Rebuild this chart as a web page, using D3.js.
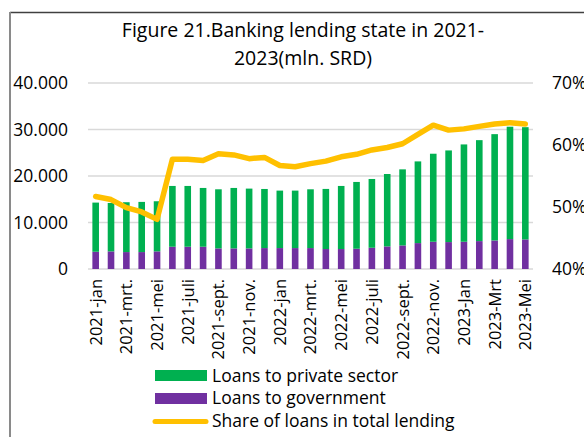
<!DOCTYPE html>
<html>
<head>
<meta charset="utf-8">
<script src="https://cdn.jsdelivr.net/npm/d3@7"></script>
<style>
  html, body { margin: 0; padding: 0; background: #fff; }
  svg { display: block; }
  text { font-family: "Open Sans", "Noto Sans", sans-serif; fill: #000; }
</style>
</head>
<body>
<svg id="chart" width="584" height="437"></svg>
<script>
const months = ["2021-jan","2021-feb","2021-mrt.","2021-apr","2021-mei","2021-jun","2021-juli","2021-aug","2021-sept.","2021-okt","2021-nov.","2021-dec","2022-jan","2022-feb","2022-mrt.","2022-apr","2022-mei","2022-jun","2022-juli","2022-aug","2022-sept.","2022-okt","2022-nov.","2022-dec","2023-Jan","2023-Feb","2023-Mrt","2023-Apr","2023-Mei"];
const shownLabels = ["2021-jan","2021-mrt.","2021-mei","2021-juli","2021-sept.","2021-nov.","2022-jan","2022-mrt.","2022-mei","2022-juli","2022-sept.","2022-nov.","2023-Jan","2023-Mrt","2023-Mei"];
const loansGovernment = [3710,3790,3640,3640,3790,4790,4790,4790,4430,4430,4430,4500,4500,4500,4500,4290,4290,4360,4570,4860,5070,5570,5860,5790,5860,6000,6140,6430,6360];
const loansPrivate = [10570,10410,10720,10790,10780,13070,13070,12640,12710,13000,12860,12710,12360,12360,12640,12930,13570,14360,14790,15570,16360,17570,18930,19710,20930,21710,22860,24170,24140];
const shareOfLoans = [51.7,51.2,49.9,49.2,48.0,57.7,57.7,57.5,58.6,58.4,57.8,58.0,56.7,56.5,57.0,57.4,58.1,58.5,59.2,59.6,60.2,61.7,63.2,62.4,62.6,63.0,63.4,63.6,63.4];
const leftTicks = [0,10000,20000,30000,40000];
const rightTicks = [40,50,60,70];
const titleLines = ["Figure 21.Banking lending state in 2021-","2023(mln. SRD)"];
const seriesNames = ["Loans to private sector","Loans to government","Share of loans in total lending"];

const colors = { priv: "#00B050", gov: "#7030A0", share: "#FFC000", grid: "#D9D9D9" };

const svg = d3.select("#chart");

// frame
svg.append("line").attr("x1",10).attr("x2",584).attr("y1",12.5).attr("y2",12.5).attr("stroke","#404040").attr("stroke-width",1.5);
svg.append("line").attr("x1",10).attr("x2",10).attr("y1",12).attr("y2",437).attr("stroke","#8a8a8a").attr("stroke-width",2);

// title
svg.selectAll("text.title").data(titleLines).enter().append("text")
  .attr("class","title").attr("x",303).attr("y",(d,i)=>37+i*27.5)
  .attr("text-anchor","middle").style("font-size","19.5px").text(d=>d);

const x = d3.scaleBand().domain(months).range([88,533]).paddingInner(0.57).paddingOuter(0.285);
const y = d3.scaleLinear().domain([0,40000]).range([269,83]);
const y2 = d3.scaleLinear().domain([40,70]).range([269,83]);

// gridlines
svg.append("g").selectAll("line").data(leftTicks).enter().append("line")
  .attr("x1",88).attr("x2",533).attr("y1",d=>y(d)).attr("y2",d=>y(d))
  .attr("stroke",colors.grid).attr("stroke-width",1.5);

// left axis labels
const fmt = d => d === 0 ? "0" : d3.format(",")(d).replace(/,/g,".");
svg.append("g").selectAll("text").data(leftTicks).enter().append("text")
  .attr("x",68).attr("y",d=>y(d)).attr("dy","0.36em").attr("text-anchor","end")
  .style("font-size","17.5px").text(fmt);

// right axis labels
svg.append("g").selectAll("text").data(rightTicks).enter().append("text")
  .attr("x",552).attr("y",d=>y2(d)).attr("dy","0.36em").attr("text-anchor","start")
  .style("font-size","17.5px").text(d=>d+"%");

// stacked bars
const rows = months.map((m,i)=>({m, gov: loansGovernment[i], priv: loansPrivate[i]}));
const stack = d3.stack().keys(["gov","priv"])(rows);
const bw = x.bandwidth();
svg.append("g").selectAll("g").data(stack).enter().append("g")
  .attr("fill", d => d.key === "gov" ? colors.gov : colors.priv)
  .selectAll("rect").data(d=>d).enter().append("rect")
  .attr("x", d => x(d.data.m)).attr("width", bw)
  .attr("y", d => y(d[1])).attr("height", d => y(d[0]) - y(d[1]));

// line
const line = d3.line().x((d,i)=>x(months[i]) + bw/2).y(d=>y2(d));
svg.append("path").datum(shareOfLoans).attr("d",line)
  .attr("fill","none").attr("stroke",colors.share).attr("stroke-width",5.5)
  .attr("stroke-linejoin","round").attr("stroke-linecap","round");

// x labels
svg.append("g").selectAll("text").data(shownLabels).enter().append("text")
  .attr("transform", d => `translate(${x(d)+bw/2},279) rotate(-90)`)
  .attr("dy","0.36em").attr("text-anchor","end")
  .style("font-size","16.5px").text(d=>d);

// legend
const lg = svg.append("g");
lg.append("rect").attr("x",155).attr("y",370).attr("width",52).attr("height",11).attr("fill",colors.priv);
lg.append("rect").attr("x",155).attr("y",393).attr("width",52).attr("height",11).attr("fill",colors.gov);
lg.append("line").attr("x1",155).attr("x2",206).attr("y1",421.5).attr("y2",421.5)
  .attr("stroke",colors.share).attr("stroke-width",5).attr("stroke-linecap","round");
lg.selectAll("text").data(seriesNames).enter().append("text")
  .attr("x",212).attr("y",(d,i)=>381.5+i*22.5).style("font-size","17.5px").text(d=>d);
</script>
</body>
</html>
